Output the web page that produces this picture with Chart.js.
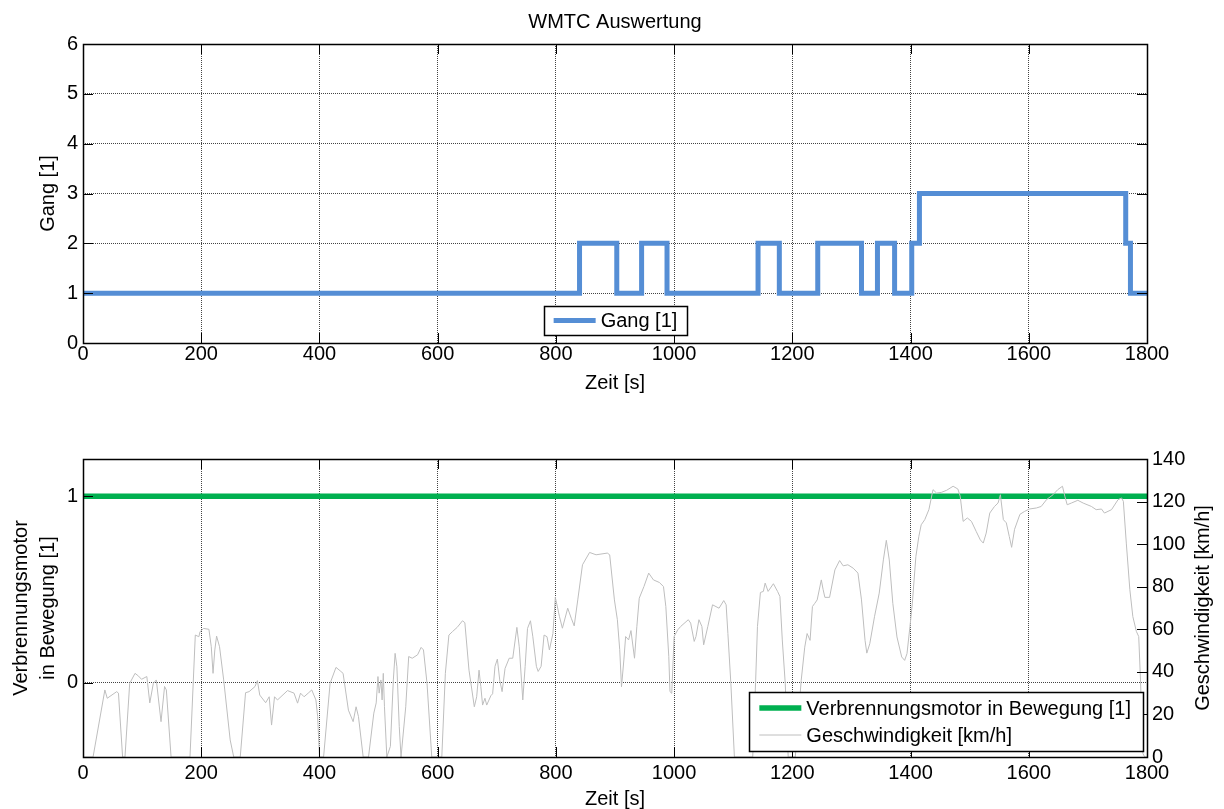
<!DOCTYPE html>
<html>
<head>
<meta charset="utf-8">
<title>WMTC Auswertung</title>
<script src="https://cdn.jsdelivr.net/npm/chart.js@4.4.1/dist/chart.umd.min.js"></script>
<style>
  html, body { margin: 0; padding: 0; background: #fff; overflow: hidden; }
  canvas { position: absolute; left: 0; }
  #gangChart { top: 0; }
  #motorChart { top: 405px; }
</style>
</head>
<body>
<canvas id="gangChart" width="1224" height="405"></canvas>
<canvas id="motorChart" width="1224" height="404"></canvas>
<script>
// ---- Data -------------------------------------------------------------
const timeTicks   = [0, 200, 400, 600, 800, 1000, 1200, 1400, 1600, 1800];
const gearTicks   = [0, 1, 2, 3, 4, 5, 6];
const engineTicks = [0, 1];
const speedTicks  = [0, 20, 40, 60, 80, 100, 120, 140];

// gear engaged from each time stamp on [s]
const gearTime  = [0, 840, 903, 945, 988, 1142, 1178, 1243, 1317, 1344, 1373, 1402, 1415, 1764, 1772, 1800];
const gearValue = [1, 2,   1,   2,   1,   2,    1,    2,    1,    2,    1,    2,    3,    2,    1,    1];

// combustion engine running (0/1)
const engineTime  = [0, 1800];
const engineValue = [1, 1];

// vehicle speed over the cycle
const speedTime = [0,17,37,41,57,60,67,71,79,88,94,99,108,113,119,124,132,138,141,149,181,190,196,198,204,213,217,220,223,226,231,238,249,255,266,275,281,291,295,299,309,315,319,324,329,346,357,363,368,374,381,387,394,397,400,
  407,418,428,435,440,449,457,462,466,474,483,492,496,499,501,504,506,508,510,514,520,525,528,531,535,538,546,551,557,566,572,576,582,590,607,613,619,625,633,642,646,653,662,666,670,673,676,680,683,690,693,697,701,705,709,714,721,727,734,738,744,748,752,757,761,767,770,775,780,785,789,795,
  799,803,806,811,820,826,831,837,845,857,868,887,891,899,904,908,911,915,918,923,927,933,937,941,949,957,965,975,982,986,991,993,996,1000,1006,1011,1024,1028,1034,1037,1042,1047,1050,1057,1065,1076,1084,1088,1091,1096,1102,1133,1138,1141,1146,1151,1154,1159,1168,1175,1179,1183,1188,1193,
  1205,1215,1221,1225,1230,1234,1238,1242,1249,1252,1255,1263,1272,1280,1286,1294,1303,1311,1317,1323,1326,1331,1339,1347,1354,1359,1364,1370,1377,1385,1390,1394,1399,1403,1409,1414,1418,1424,1431,1438,1444,1452,1461,1472,1480,1484,1489,1496,1503,1511,1518,1523,1528,1534,1542,1548,1552,1557,1562,1567,1571,1576,1585,1593,
  1601,1613,1621,1630,1641,1649,1657,1661,1665,1672,1683,1692,1706,1714,1723,1728,1740,1751,1757,1760,1765,1771,1776,1782,1786,1789,1793,1796,1800];
const speedKmh = [0,0,31.5,27.6,30.7,30,0,0,34.6,39.3,38,36.5,37.8,25.4,34.6,36.2,16.6,33.1,31.5,0,0,57.3,56.5,58.9,60.4,60,51.8,39.3,50.3,56.8,51.8,36.2,8,0,0,30.2,30.7,33.1,35.9,29.1,25.5,28.3,15,28.3,26.8,31.2,30,25.3,30,28.3,30,31.5,26.8,19,0,
  0,34.6,42.1,40.5,39.3,22,16.6,23.6,19,0,0,20.6,25.4,37.8,30,36.2,26.8,39.3,23.6,0,5,36.2,48.7,42.4,14.4,0,23.6,47.2,46.4,48,51.5,50.3,34.6,0,0,39.3,57.3,58.9,60.9,64,63.1,40.8,23.6,28.3,40.8,33.1,24.4,27.6,24.4,28.8,29.7,42.6,46,36.2,30.7,41.6,46.4,46.4,60.9,51.8,26.8,42.6,60.4,64,56.5,42.6,40.2,42.6,57.3,56.5,50.3,58,
  75,70,66,60.5,69.9,65.2,61.6,73.8,90.3,96.1,95,95.8,95,73.8,64.5,50.4,33,45.6,56.6,55,59.4,46.4,61.4,74.6,80.1,86.4,83.2,82,80.1,70.7,47.2,30.7,29.9,56.6,59.7,61.3,64.5,62.9,54.3,56.6,64.5,61.3,52.7,61.3,71.5,69.9,73.5,71.5,58,34.6,0,0,36.2,61.3,77.3,77.8,81.7,77.8,81.4,77.8,75.4,55,34.6,0,
  0,36,51.6,58,54.8,70.7,72.2,73.8,83.2,78.8,75,75,87.9,92.3,89.8,90.3,88.7,86.4,73.8,54.8,48.8,53.2,65.9,77,92.6,101.8,92.6,72.2,56.4,47,45.4,48.6,61.3,72.2,94.2,103.6,109.1,111.5,116.2,125.6,124,124.3,125.3,127.2,125.9,122.5,110.7,112.3,110.7,106,102,100.5,105.2,114.6,117.7,119.3,123.2,111.5,110,103.6,98.5,107,114,115.4,
  116.5,117,117.7,120.9,123.2,125.6,127.2,122.5,118.5,119.3,120.6,119.3,117.7,116.2,116.5,114.6,116.2,120.9,121.7,120.1,100.5,78.6,66,59,56.6,36.2,1.7,0,0];

// ---- Styling helpers --------------------------------------------------
const FONT = '"Liberation Sans", Arial, Helvetica, sans-serif';
Chart.defaults.font.family = FONT;
Chart.defaults.font.size = 20;
Chart.defaults.color = '#000';

const toXY = (xs, ys) => xs.map((x, i) => ({ x, y: ys[i] }));
const fixedTicks = list => scale => { scale.ticks = list.map(v => ({ value: v })); };
const plainLabel = v => String(v);
const GRID = { color: '#444', lineWidth: 1, drawTicks: false };
const BORDER = { display: false, dash: [1, 1] };

// frame, inward tick marks, legend box, title and right-hand axis title
const axesFrame = {
  id: 'axesFrame',
  afterDraw(chart, args, opts) {
    const { ctx, chartArea: a } = chart;
    const TL = 10;
    const px = v => Math.round(v) + 0.5;
    ctx.save();
    ctx.strokeStyle = '#000';
    ctx.lineWidth = 1;
    ctx.beginPath();
    const xs = chart.scales.x;
    xs.ticks.forEach(t => {
      const p = px(xs.getPixelForValue(t.value));
      ctx.moveTo(p, a.top); ctx.lineTo(p, a.top + TL);
      ctx.moveTo(p, a.bottom); ctx.lineTo(p, a.bottom - TL);
    });
    (opts.leftTicks || []).forEach(id => {
      const s = chart.scales[id];
      s.ticks.forEach(t => { const p = px(s.getPixelForValue(t.value)); ctx.moveTo(a.left, p); ctx.lineTo(a.left + TL, p); });
    });
    (opts.rightTicks || []).forEach(id => {
      const s = chart.scales[id];
      s.ticks.forEach(t => { const p = px(s.getPixelForValue(t.value)); ctx.moveTo(a.right, p); ctx.lineTo(a.right - TL, p); });
    });
    ctx.stroke();
    ctx.lineWidth = 1.5;
    ctx.strokeRect(Math.round(a.left) + 0.5, Math.round(a.top) + 0.5, Math.round(a.right - a.left), Math.round(a.bottom - a.top));

    ctx.font = '20px ' + FONT;
    ctx.fillStyle = '#000';

    // title centred over the plot area
    if (opts.title) {
      ctx.textAlign = 'center';
      ctx.textBaseline = 'middle';
      ctx.fillText(opts.title, (a.left + a.right) / 2, opts.titleY);
    }

    // legend
    const L = opts.legend;
    if (L) {
      const items = L.order.map(i => chart.data.datasets[i]);
      const textW = Math.max(...items.map(d => ctx.measureText(d.label).width));
      const w = L.padL + L.sample + L.gap + textW + L.padR;
      const h = L.padV * 2 + items.length * L.row;
      const left = L.anchor === 'south' ? (a.left + a.right) / 2 - w / 2 : a.right - L.insetX - w;
      const top = a.bottom - L.insetY - h;
      ctx.fillStyle = '#fff';
      ctx.fillRect(left, top, w, h);
      ctx.strokeStyle = '#000';
      ctx.lineWidth = 1.5;
      ctx.strokeRect(Math.round(left) + 0.5, Math.round(top) + 0.5, Math.round(w), Math.round(h));
      items.forEach((d, k) => {
        const cy = top + L.padV + L.row * (k + 0.5);
        ctx.strokeStyle = d.borderColor;
        ctx.lineWidth = d.borderWidth;
        ctx.beginPath();
        ctx.moveTo(left + L.padL, cy);
        ctx.lineTo(left + L.padL + L.sample, cy);
        ctx.stroke();
        ctx.fillStyle = '#000';
        ctx.textAlign = 'left';
        ctx.textBaseline = 'middle';
        ctx.fillText(d.label, left + L.padL + L.sample + L.gap, cy + 1);
      });
    }

    // right axis title, reading upwards
    if (opts.rightTitle) {
      ctx.fillStyle = '#000';
      ctx.textAlign = 'center';
      ctx.textBaseline = 'middle';
      ctx.translate(opts.rightTitleX, (a.top + a.bottom) / 2);
      ctx.rotate(-Math.PI / 2);
      ctx.fillText(opts.rightTitle, 0, 0);
    }
    ctx.restore();
  }
};

// ---- Gear chart ----------------------------------------------------------
new Chart(document.getElementById('gangChart'), {
  type: 'line',
  data: {
    datasets: [{
      label: 'Gang [1]',
      data: toXY(gearTime, gearValue),
      stepped: true,
      borderColor: '#558ED5',
      borderWidth: 5,
      borderJoinStyle: 'miter',
      pointRadius: 0,
      fill: false
    }]
  },
  options: {
    responsive: false,
    animation: false,
    devicePixelRatio: 1,
    layout: { padding: { left: 0, right: 77, top: 44, bottom: 0 } },
    plugins: {
      legend: { display: false },
      tooltip: { enabled: false },
      axesFrame: {
        title: 'WMTC Auswertung', titleY: 22,
        leftTicks: ['y'], rightTicks: ['y'],
        legend: { order: [0], anchor: 'south', insetY: 8, insetX: 4, padL: 10, sample: 42, gap: 5, padR: 9, padV: 1, row: 27 }
      }
    },
    scales: {
      x: {
        type: 'linear', min: 0, max: 1800,
        afterBuildTicks: fixedTicks(timeTicks),
        afterFit: s => { s.height = 62; },
        grid: GRID, border: BORDER,
        ticks: { padding: 1, autoSkip: false, maxRotation: 0, callback: plainLabel, font: { size: 20, lineHeight: 1 } },
        title: { display: true, text: 'Zeit [s]', font: { size: 20, lineHeight: 1 }, padding: { top: 0, bottom: 12 } }
      },
      y: {
        min: 0, max: 6,
        afterBuildTicks: fixedTicks(gearTicks),
        afterFit: s => { s.width = 83; },
        grid: GRID, border: BORDER,
        ticks: { padding: 5, autoSkip: false, callback: plainLabel, font: { size: 20 } },
        title: { display: true, text: 'Gang [1]', font: { size: 20, lineHeight: 1.2 }, padding: { top: 36, bottom: 0 } }
      }
    }
  },
  plugins: [axesFrame]
});

// ---- Engine state and speed chart ---------------------------------------
new Chart(document.getElementById('motorChart'), {
  type: 'line',
  data: {
    datasets: [{
      label: 'Verbrennungsmotor in Bewegung [1]',
      data: toXY(engineTime, engineValue),
      yAxisID: 'y',
      borderColor: '#00B050',
      borderWidth: 5.5,
      pointRadius: 0,
      fill: false,
      order: 1
    }, {
      label: 'Geschwindigkeit [km/h]',
      data: toXY(speedTime, speedKmh),
      yAxisID: 'y2',
      borderColor: '#BEBEBE',
      borderWidth: 1,
      pointRadius: 0,
      tension: 0,
      fill: false,
      order: 0
    }]
  },
  options: {
    responsive: false,
    animation: false,
    devicePixelRatio: 1,
    layout: { padding: { left: 0, right: 0, top: 54, bottom: 0 } },
    plugins: {
      legend: { display: false },
      tooltip: { enabled: false },
      axesFrame: {
        leftTicks: ['y'], rightTicks: ['y2'],
        rightTitle: 'Geschwindigkeit [km/h]', rightTitleX: 1203,
        legend: { order: [0, 1], anchor: 'southeast', insetY: 6, insetX: 4, padL: 10, sample: 42, gap: 5, padR: 12, padV: 2.5, row: 27 }
      }
    },
    scales: {
      x: {
        type: 'linear', min: 0, max: 1800,
        afterBuildTicks: fixedTicks(timeTicks),
        afterFit: s => { s.height = 52; },
        grid: GRID, border: BORDER,
        ticks: { padding: 6, autoSkip: false, maxRotation: 0, callback: plainLabel, font: { size: 20, lineHeight: 1 } },
        title: { display: true, text: 'Zeit [s]', font: { size: 20, lineHeight: 1 }, padding: { top: 0, bottom: 0 } }
      },
      y: {
        position: 'left', min: -0.4, max: 1.2,
        afterBuildTicks: fixedTicks(engineTicks),
        afterFit: s => { s.width = 83; },
        grid: GRID, border: BORDER,
        ticks: { padding: 5, autoSkip: false, callback: plainLabel, font: { size: 20 } },
        title: {
          display: true, text: ['Verbrennungsmotor', 'in Bewegung [1]'],
          font: { size: 20, lineHeight: 1.35 }, padding: { top: 7.5, bottom: 0 }
        }
      },
      y2: {
        position: 'right', min: 0, max: 140,
        afterBuildTicks: fixedTicks(speedTicks),
        afterFit: s => { s.width = 77; },
        grid: { drawOnChartArea: false, drawTicks: false },
        border: { display: false },
        ticks: { padding: 5, autoSkip: false, callback: plainLabel, font: { size: 20 } }
      }
    }
  },
  plugins: [axesFrame]
});
</script>
</body>
</html>
